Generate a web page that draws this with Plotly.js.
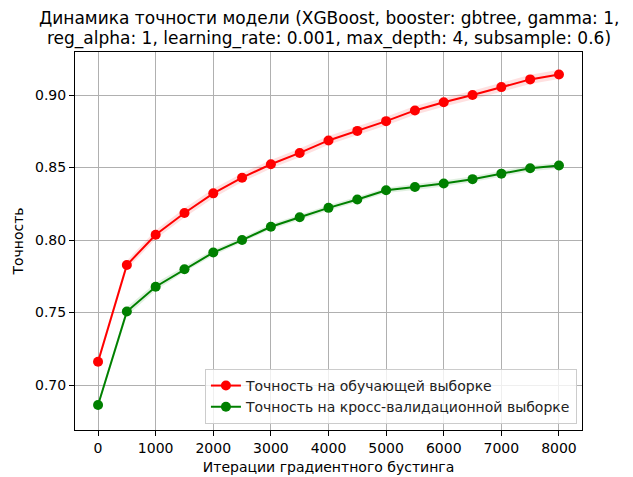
<!DOCTYPE html>
<html>
<head>
<meta charset="utf-8">
<script src="https://cdn.plot.ly/plotly-3.0.1.min.js"></script>
<style>html,body{margin:0;padding:0;background:#fff;}#chart{width:633px;height:477px;}</style>
</head>
<body>
<div id="chart"></div>
<script>
const iterations = [0, 500, 1000, 1500, 2000, 2500, 3000, 3500, 4000, 4500, 5000, 5500, 6000, 6500, 7000, 7500, 8000];
const trainAcc = [0.7161, 0.7828, 0.8037, 0.8187, 0.8322, 0.8430, 0.8523, 0.8601, 0.8687, 0.8753, 0.8820, 0.8894, 0.8950, 0.9000, 0.9055, 0.9108, 0.9142];
const trainStd = [0.0025, 0.0030, 0.0030, 0.0032, 0.0032, 0.0030, 0.0030, 0.0030, 0.0030, 0.0030, 0.0030, 0.0030, 0.0030, 0.0030, 0.0032, 0.0032, 0.0032];
const cvAcc = [0.6862, 0.7507, 0.7678, 0.7799, 0.7914, 0.8000, 0.8092, 0.8157, 0.8222, 0.8280, 0.8343, 0.8366, 0.8390, 0.8420, 0.8458, 0.8495, 0.8514];
const cvStd = [0.0020, 0.0030, 0.0025, 0.0020, 0.0020, 0.0018, 0.0018, 0.0018, 0.0018, 0.0018, 0.0018, 0.0020, 0.0020, 0.0020, 0.0020, 0.0020, 0.0020];
const xTicks = [0, 1000, 2000, 3000, 4000, 5000, 6000, 7000, 8000];
const yTicks = [0.70, 0.75, 0.80, 0.85, 0.90];

const titleLines = [
  'Динамика точности модели (XGBoost, booster: gbtree, gamma: 1,',
  'reg_alpha: 1, learning_rate: 0.001, max_depth: 4, subsample: 0.6)'
];
const trainName = 'Точность на обучающей выборке';
const cvName = 'Точность на кросс-валидационной выборке';
const xTitle = 'Итерации градиентного бустинга';
const yTitle = 'Точность';

function band(mean, std, color) {
  const lower = mean.map((m, i) => m - std[i]);
  const upper = mean.map((m, i) => m + std[i]);
  return [
    {x: iterations, y: lower, mode: 'lines', line: {width: 0}, showlegend: false, hoverinfo: 'skip'},
    {x: iterations, y: upper, mode: 'lines', line: {width: 0}, fill: 'tonexty', fillcolor: color, showlegend: false, hoverinfo: 'skip'}
  ];
}

const data = [
  ...band(trainAcc, trainStd, 'rgba(255,0,0,0.12)'),
  ...band(cvAcc, cvStd, 'rgba(0,128,0,0.12)'),
  {x: iterations, y: trainAcc, mode: 'lines+markers', name: trainName,
   line: {color: 'red', width: 2}, marker: {color: 'red', size: 10}},
  {x: iterations, y: cvAcc, mode: 'lines+markers', name: cvName,
   line: {color: 'green', width: 2}, marker: {color: 'green', size: 10}}
];

const axisCommon = {
  showline: true, linecolor: 'black', linewidth: 1, mirror: true,
  ticks: 'outside', ticklen: 5, tickcolor: 'black', tickwidth: 1,
  showgrid: true, gridcolor: '#b0b0b0', gridwidth: 1, zeroline: false,
  tickfont: {family: 'DejaVu Sans', size: 14, color: 'black'}
};

const titleFont = {family: 'DejaVu Sans', size: 17, color: 'black'};

const layout = {
  width: 633, height: 477,
  margin: {l: 75, r: 51, t: 52, b: 47},
  paper_bgcolor: 'white', plot_bgcolor: 'white',
  font: {family: 'DejaVu Sans', color: 'black'},
  annotations: [
    {text: titleLines[0], xref: 'paper', yref: 'paper', x: 0.5, y: 1.0899, xanchor: 'center', yanchor: 'middle', showarrow: false, font: titleFont},
    {text: titleLines[1], xref: 'paper', yref: 'paper', x: 0.5, y: 1.037, xanchor: 'center', yanchor: 'middle', showarrow: false, font: titleFont}
  ],
  xaxis: Object.assign({}, axisCommon, {
    range: [-400, 8400], tickvals: xTicks, ticktext: xTicks.map(String),
    title: {text: xTitle, font: {family: 'DejaVu Sans', size: 14, color: 'black'}, standoff: 7}
  }),
  yaxis: Object.assign({}, axisCommon, {
    range: [0.669, 0.9297], tickvals: yTicks, ticktext: yTicks.map(v => v.toFixed(2)),
    title: {text: yTitle, font: {family: 'DejaVu Sans', size: 14, color: 'black'}, standoff: 8}
  }),
  legend: {x: 0.99, y: 0.016, xanchor: 'right', yanchor: 'bottom',
           bgcolor: 'rgba(255,255,255,0.8)', bordercolor: '#cccccc', borderwidth: 1,
           font: {family: 'DejaVu Sans', size: 14, color: '#222'}, itemwidth: 30, traceorder: 'normal',
           tracegroupgap: 0},
  showlegend: true
};

Plotly.newPlot('chart', data, layout, {displayModeBar: false, staticPlot: true});
</script>
</body>
</html>
